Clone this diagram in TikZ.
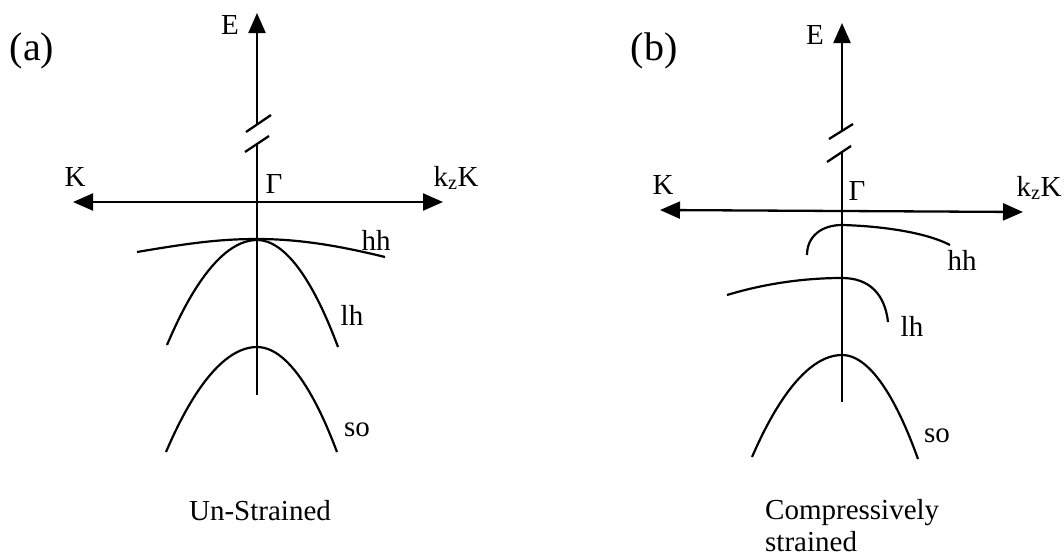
\documentclass[tikz,border=0pt]{standalone}
\usepackage{fontspec}
\setmainfont{Liberation Serif}
\usetikzlibrary{arrows.meta}
\begin{document}
\begin{tikzpicture}[x=1pt,y=-1pt,
  axis/.style={line width=2.3pt,-{Triangle[length=20pt,width=17pt]}},
  axisline/.style={line width=2.3pt},
  brk/.style={line width=2.3pt},
  band/.style={line width=2.2pt},
  lbl/.style={inner sep=0pt,font=\fontsize{29}{32}\selectfont},
  elbl/.style={inner sep=0pt,font=\fontsize{29}{32}\selectfont},
  tag/.style={inner sep=0pt,font=\fontsize{40}{44}\selectfont}]
\useasboundingbox (0,0) rectangle (1064,557);

% ---------------- panel (a) ----------------
\coordinate (aTop) at (257,13);
\coordinate (aUp) at (257,124);
\coordinate (aLo) at (257,144);
\coordinate (aBot) at (257,395);
\coordinate (aO) at (257,202);
\coordinate (aL) at (73,202);
\coordinate (aR) at (443,202);
\draw[axis] (aUp) -- (aTop);
\draw[axisline] (aLo) -- (aBot);
\draw[axis] (aO) -- (aL);
\draw[axis] (aO) -- (aR);
\draw[brk] (246,132) -- (271,115);
\draw[brk] (245,152) -- (269,136);

\draw[band] (137,252) .. controls (190,243) and (220,239) .. (257,239)
            .. controls (300,239) and (340,246) .. (385,257);
\draw[band] (167,345) parabola bend (257,240) (338,347);
\draw[band] (166,452) parabola bend (257,347) (337,452);

\node[tag] (tagA) at (32,51) {(a)};
\node[elbl] (Ea) at (230,25) {E};
\node[lbl] (Ka) at (75,177) {K};
\node[lbl] (kzKa) at (456,178) {k\textsubscript{z}K};
\node[lbl] (Ga) at (274,184) {Γ};
\node[lbl] (hha) at (376,240) {hh};
\node[lbl] (lha) at (352,315) {lh};
\node[lbl] (soa) at (357,430) {so};
\node[lbl] (capA) at (260,511) {Un-Strained};

% ---------------- panel (b) ----------------
\coordinate (bTop) at (842,23);
\coordinate (bUp) at (842,131);
\coordinate (bLo) at (842,152);
\coordinate (bBot) at (842,402);
\coordinate (bO) at (842,211);
\coordinate (bL) at (660,210);
\coordinate (bR) at (1023,212);
\draw[axis] (bUp) -- (bTop);
\draw[axisline] (bLo) -- (bBot);
\draw[axis] (bO) -- (bL);
\draw[axis] (bO) -- (bR);
\draw[brk] (829,139) -- (853,124);
\draw[brk] (827,162) -- (851,146);

\draw[band] (807,255) .. controls (807,236) and (822,225) .. (842,225)
            .. controls (880,226) and (925,232) .. (950,245);
\draw[band] (727,295) .. controls (770,282) and (810,278) .. (842,278)
            .. controls (870,278) and (885,295) .. (888,322);
\draw[band] (752,457) parabola bend (842,355) (918,459);

\node[tag] (tagB) at (654,51) {(b)};
\node[elbl] (Eb) at (815,35) {E};
\node[lbl] (Kb) at (663,185) {K};
\node[lbl] (kzKb) at (1039,188) {k\textsubscript{z}K};
\node[lbl] (Gb) at (857,191) {Γ};
\node[lbl] (hhb) at (962,260) {hh};
\node[lbl] (lhb) at (912,326) {lh};
\node[lbl] (sob) at (937,436) {so};
\node[lbl,anchor=west,align=left] (capB) at (765,526) {Compressively\\strained};
\end{tikzpicture}
\end{document}
